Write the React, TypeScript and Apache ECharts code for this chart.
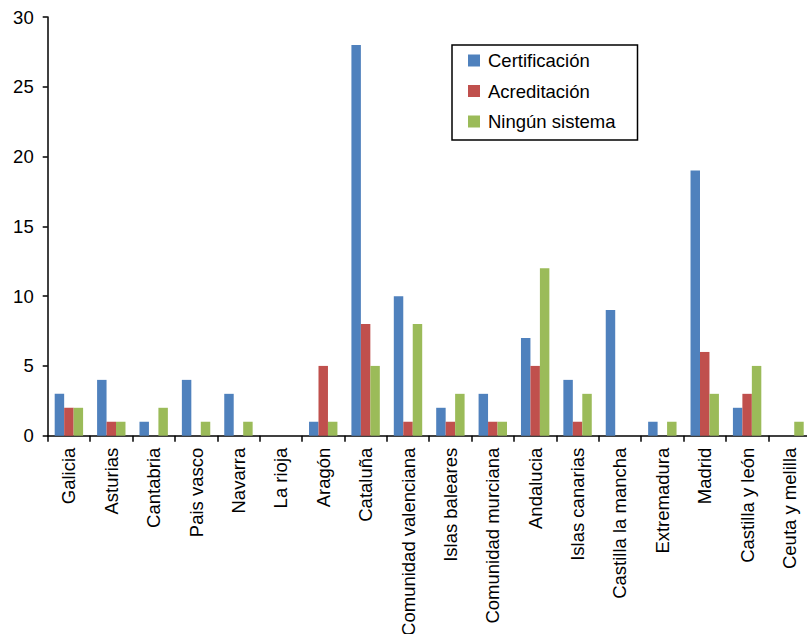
import React, { useEffect, useRef } from "react";
import * as echarts from "echarts";

const categories = [
  "Galicia",
  "Asturias",
  "Cantabria",
  "Pais vasco",
  "Navarra",
  "La rioja",
  "Aragón",
  "Cataluña",
  "Comunidad valenciana",
  "Islas baleares",
  "Comunidad murciana",
  "Andalucia",
  "Islas canarias",
  "Castilla la mancha",
  "Extremadura",
  "Madrid",
  "Castilla y león",
  "Ceuta y melilla",
];

const certificacion = [3, 4, 1, 4, 3, 0, 1, 28, 10, 2, 3, 7, 4, 9, 1, 19, 2, 0];
const acreditacion = [2, 1, 0, 0, 0, 0, 5, 8, 1, 1, 1, 5, 1, 0, 0, 6, 3, 0];
const ningunSistema = [2, 1, 2, 1, 1, 0, 1, 5, 8, 3, 1, 12, 3, 0, 1, 3, 5, 1];

const seriesNames = ["Certificación", "Acreditación", "Ningún sistema"];
const seriesColors = ["#4F81BD", "#C0504D", "#9BBB59"];

export default function App() {
  const ref = useRef<HTMLDivElement>(null);

  useEffect(() => {
    if (!ref.current) return;
    const chart = echarts.init(ref.current, undefined, { renderer: "svg" });
    const font = "'Liberation Sans', Arial, Helvetica, sans-serif";
    const data = [certificacion, acreditacion, ningunSistema];
    chart.setOption({
      animation: false,
      textStyle: { fontFamily: font },
      grid: {
        left: 47.7,
        top: 17,
        bottom: 198.3,
        right: -3.7,
        containLabel: false,
        outerBoundsMode: "none",
      },
      legend: {
        orient: "vertical",
        left: 452,
        top: 45,
        padding: [6, 22, 9, 16],
        itemGap: 11.5,
        itemWidth: 12,
        itemHeight: 12,
        icon: "rect",
        borderColor: "#000",
        borderWidth: 1.5,
        data: seriesNames,
        textStyle: {
          fontFamily: font,
          fontSize: 18.5,
          color: "#000",
          lineHeight: 18,
          padding: [0, 0, 0, 3],
        },
      },
      xAxis: {
        type: "category",
        data: categories,
        axisLine: { lineStyle: { color: "#000", width: 1.5 } },
        axisTick: { show: true, length: 6, lineStyle: { color: "#000", width: 1.5 } },
        axisLabel: {
          rotate: 90,
          interval: 0,
          margin: 12,
          fontSize: 18.5,
          color: "#000",
          fontFamily: font,
        },
      },
      yAxis: {
        type: "value",
        min: 0,
        max: 30,
        interval: 5,
        splitLine: { show: false },
        axisLine: { show: true, lineStyle: { color: "#000", width: 1.5 } },
        axisTick: { show: true, length: 5, lineStyle: { color: "#000", width: 1.5 } },
        axisLabel: { fontSize: 18.5, color: "#000", margin: 14, fontFamily: font },
      },
      series: seriesNames.map((name, i) => ({
        name,
        type: "bar",
        data: data[i],
        barGap: "0%",
        barCategoryGap: "33%",
        itemStyle: { color: seriesColors[i] },
      })),
    });
    return () => chart.dispose();
  }, []);

  return (
    <div
      ref={ref}
      style={{ position: "fixed", left: 0, top: 0, width: 807, height: 634, background: "#fff" }}
    />
  );
}
